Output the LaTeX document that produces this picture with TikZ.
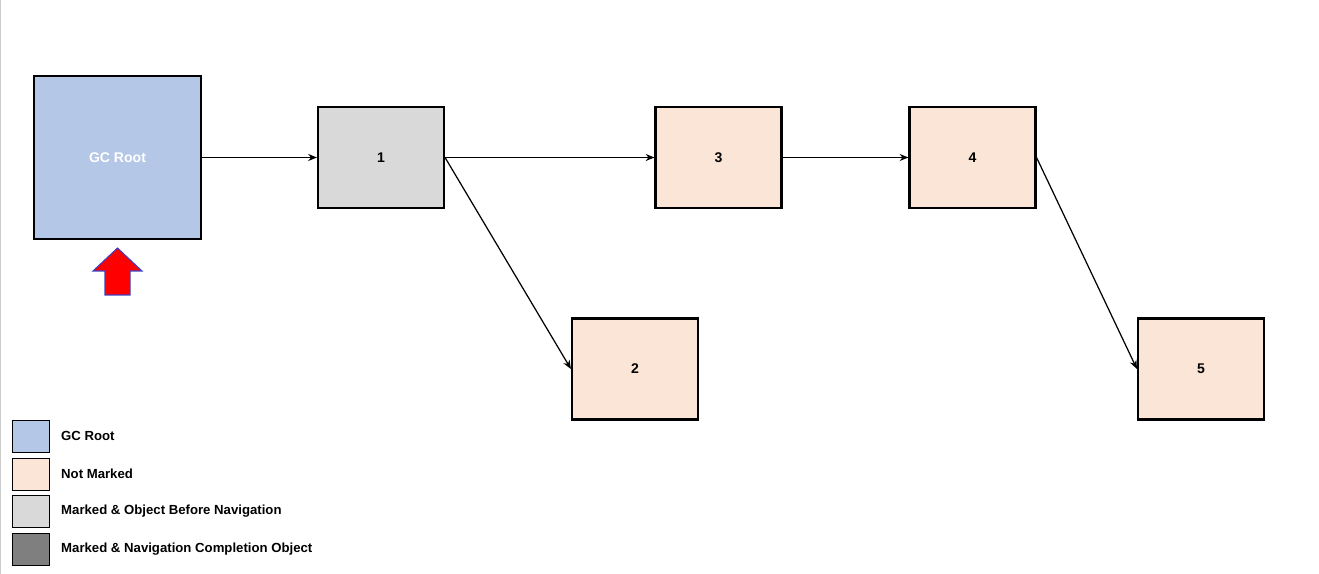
\documentclass[tikz,border=0pt]{standalone}
\usepackage{fontspec}
\setmainfont{Liberation Sans}
\usetikzlibrary{positioning,arrows.meta}
\definecolor{rootblue}{HTML}{B4C7E7}
\definecolor{notmarked}{HTML}{FBE5D6}
\definecolor{beforenav}{HTML}{D9D9D9}
\definecolor{donenav}{HTML}{7F7F7F}
\tikzset{
  objbox/.style={draw, line width=1.2pt, minimum width=126*0.02cm, minimum height=101*0.02cm,
    font=\fontsize{8}{10}\selectfont\bfseries, inner sep=0pt},
  legbox/.style={draw, line width=0.5pt, minimum width=37*0.02cm, minimum height=32*0.02cm, inner sep=0pt},
  legtext/.style={font=\fontsize{7.5}{9}\selectfont\bfseries, anchor=west},
  link/.style={-{Stealth[length=5pt,width=4pt]}, line width=0.7pt}
}
\begin{document}
\begin{tikzpicture}[x=0.02cm, y=-0.02cm]
  \useasboundingbox (0,0) rectangle (1319,574);
  \draw[gray!40] (0.5,0) -- (0.5,574);
  % objects
  \node[objbox, fill=rootblue, minimum width=167*0.02cm, minimum height=163*0.02cm, text=white] (root) at (117.5,157.5) {GC Root};
  \node[objbox, fill=beforenav] (n1) at (381,157.5) {1};
  \node[objbox, fill=notmarked] (n3) at (718.5,157.5) {3};
  \node[objbox, fill=notmarked] (n4) at (972.5,157.5) {4};
  \node[objbox, fill=notmarked] (n2) at (635,369) {2};
  \node[objbox, fill=notmarked] (n5) at (1201,369) {5};
  % links
  \draw[link] (root) -- (n1);
  \draw[link] (n1) -- (n3);
  \draw[link] (n3) -- (n4);
  \draw[link] (n1.east) -- (n2.west);
  \draw[link] (n4.east) -- (n5.west);
  % pointer
  \draw[fill=red, draw=blue!50!gray, line width=0.6pt]
    (117.5,248) -- (142,271) -- (130,271) -- (130,295) -- (105,295) -- (105,271) -- (93,271) -- cycle;
  % legend
  \node[legbox, fill=rootblue] (l1) at (30.5,436) {};
  \node[legbox, fill=notmarked] (l2) at (30.5,474) {};
  \node[legbox, fill=beforenav] (l3) at (30.5,511) {};
  \node[legbox, fill=donenav] (l4) at (30.5,549) {};
  \node[legtext] at (55,436) {GC Root};
  \node[legtext] at (55,474) {Not Marked};
  \node[legtext] at (55,511) {Marked \& Object Before Navigation};
  \node[legtext] at (55,549) {Marked \& Navigation Completion Object};
\end{tikzpicture}
\end{document}
